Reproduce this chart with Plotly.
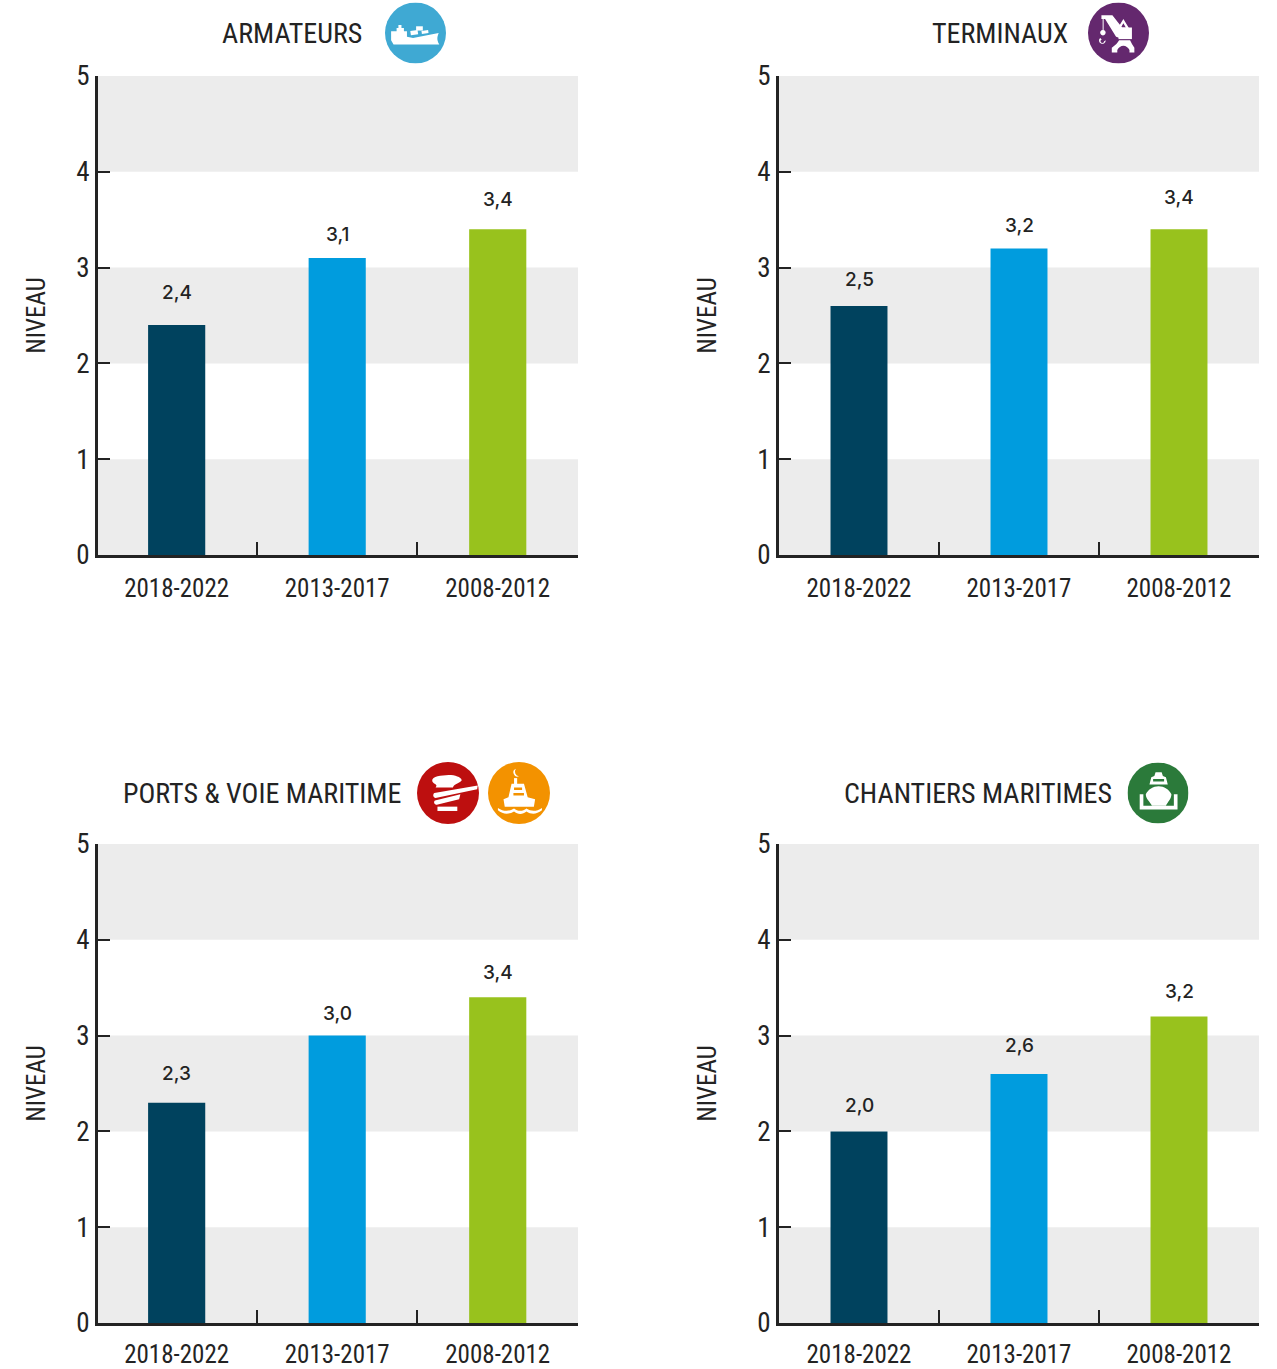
import base64
import plotly.graph_objects as go

W, H = 1277, 1369
periods = ["2018-2022", "2013-2017", "2008-2012"]
bar_colors = ["#00425e", "#009cde", "#98c21d"]
titles = ["ARMATEURS", "TERMINAUX", "PORTS & VOIE MARITIME", "CHANTIERS MARITIMES"]
armateurs = [2.4, 3.1, 3.4]
terminaux = [2.6, 3.2, 3.4]
ports = [2.3, 3.0, 3.4]
chantiers = [2.0, 2.6, 3.2]
armateurs_text = ["2,4", "3,1", "3,4"]
terminaux_text = ["2,5", "3,2", "3,4"]
ports_text = ["2,3", "3,0", "3,4"]
chantiers_text = ["2,0", "2,6", "3,2"]
armateurs_label_y = [2.74, 3.35, 3.71]
terminaux_label_y = [2.875, 3.44, 3.73]
ports_label_y = [2.60, 3.23, 3.66]
chantiers_label_y = [2.27, 2.90, 3.46]
y_ticks = [0, 1, 2, 3, 4, 5]
bands = [(0, 1), (2, 3), (4, 5)]

INK = "#232323"
NARROW = "Liberation Sans Narrow, Roboto Condensed, Liberation Sans, sans-serif"

# pixel frames: left, right, top, bottom, title x, title y, y-title standoff, x range start, x label standoff
frames = [
    (98, 578, 76, 555, 292, 33, 24, -0.49, 9),
    (779, 1259, 76, 555, 1000, 33, 34, -0.5, 9),
    (98, 578, 844, 1323, 262, 793, 24, -0.49, 7),
    (779, 1259, 844, 1323, 978, 793, 34, -0.5, 7),
]
series = [armateurs, terminaux, ports, chantiers]
texts = [armateurs_text, terminaux_text, ports_text, chantiers_text]
label_ys = [armateurs_label_y, terminaux_label_y, ports_label_y, chantiers_label_y]


def svg_icon(color, glyph):
    svg = (
        "<svg xmlns='http://www.w3.org/2000/svg' viewBox='0 0 100 100'>"
        f"<circle cx='50' cy='50' r='50' fill='{color}'/>"
        f"<g fill='#fff' stroke='none'>{glyph}</g></svg>"
    )
    return "data:image/svg+xml;base64," + base64.b64encode(svg.encode()).decode()


ship = (
    "<path d='M10 47 H19 V42 H22 V37 H27 V42 H31 V47 H36 V56 L46 58 L88 50 "
    "C86 56 84 60 89 69 L14 69 L10 62 Z'/>"
    "<rect x='42' y='46' width='12' height='7' transform='rotate(-8 48 50)'/>"
    "<rect x='51' y='39' width='11' height='7'/>"
    "<rect x='60' y='46' width='11' height='5' transform='rotate(-8 65 48)'/>"
)
crane = (
    "<path d='M22 21 H40 L58 44 L52 58 L46 56 L28 27 H22 Z'/>"
    "<path d='M58 27 L67 42 H49 Z M58 34 L54 41 H62 Z' fill-rule='evenodd'/>"
    "<rect x='50' y='41' width='22' height='19'/>"
    "<rect x='24' y='24' width='1.6' height='22'/>"
    "<path d='M24.5 45 a4.5 4.5 0 1 1 -0.1 0 Z M20 58 a5.5 5.5 0 1 0 9 4 l-2.5 1.5 a3 3 0 1 1 -4 -3 Z'/>"
    "<path d='M39 82 V74 C45 70 49 66 51 62 H69 C71 66 73 70 76 74 V82 H68 V78 C66 74 62 71 58 71 C54 71 50 74 48 78 V82 Z'/>"
)
bollard = (
    "<path d='M25 28 C28 22 45 21 55 21 C65 22 73 26 72 30 C70 34 60 35 58 41 L30 41 C36 35 22 36 25 28 Z'/>"
    "<path d='M28 50 L98 38 L97 44 L30 58 C26 58 25 52 28 50 Z'/>"
    "<path d='M29 62 L70 52 L68 60 L32 69 C28 69 26 64 29 62 Z'/>"
    "<rect x='33' y='72' width='32' height='7'/>"
)
buoy = (
    "<path d='M45 11 a6.5 6.5 0 1 0 5 12 a7.5 7.5 0 0 1 -5 -12 Z'/>"
    "<rect x='42' y='26' width='5' height='10'/>"
    "<path d='M38 35 H58 L64 57 L76 60 L74 72 H27 L25 60 L33 57 Z M42 41 V45 H55 V41 Z M41 50 V54 H58 V50 Z' fill-rule='evenodd'/>"
    "<path d='M16 74 C25 80 34 80 42 75 C48 80 56 80 62 75 C70 80 78 80 87 74 L87 78 C78 85 70 85 62 80 C56 85 48 85 42 80 C34 85 24 85 16 78 Z'/>"
)
dock = (
    "<path d='M46 16 H56 L58 22 L63 24 L66 36 H36 L39 24 L44 22 Z M42 27 V31 H60 V27 Z' fill-rule='evenodd'/>"
    "<path d='M30 52 C34 44 42 39 51 39 C60 39 68 44 72 52 C72 60 66 64 63 71 H40 C37 64 30 60 30 52 Z'/>"
    "<path d='M20 52 H26 V71 H76 V52 H82 V77 H20 Z'/>"
)
# icon: centre x, centre y, radius (pixels), image
icons = [
    (415.5, 33, 30.5, svg_icon("#3fa9d3", ship)),
    (1118.5, 33, 30.5, svg_icon("#64286e", crane)),
    (448, 793, 31, svg_icon("#bd0f0f", bollard)),
    (519, 793, 31, svg_icon("#f39200", buoy)),
    (1158, 793, 30.5, svg_icon("#2b7a3a", dock)),
]

fig = go.Figure()
shapes, annotations, images = [], [], []
layout = {}

for i, (l, r, t, b, tx, ty, standoff, x0, xstand) in enumerate(frames):
    n = "" if i == 0 else str(i + 1)
    fig.add_trace(go.Bar(
        x=periods, y=series[i], marker=dict(color=bar_colors, line=dict(width=0)),
        width=0.356, xaxis=f"x{n}", yaxis=f"y{n}", showlegend=False,
        hovertemplate="%{x}: %{y}<extra></extra>",
    ))
    layout[f"xaxis{n}"] = dict(
        domain=[l / W, r / W], anchor=f"y{n}", type="category",
        categoryorder="array", categoryarray=periods,
        range=[x0, 2.5], tickson="boundaries", ticks="inside", ticklen=13,
        tickwidth=2, tickcolor=INK, showline=True, linecolor=INK, linewidth=3,
        showgrid=False, zeroline=False, ticklabelstandoff=xstand, automargin=False,
        tickfont=dict(family=NARROW, size=25, color=INK),
    )
    layout[f"yaxis{n}"] = dict(
        domain=[1 - b / H, 1 - t / H], anchor=f"x{n}", range=[0, 5],
        tickmode="array", tickvals=y_ticks, ticktext=[str(v) for v in y_ticks],
        ticks="inside", ticklen=12, tickwidth=2, tickcolor=INK,
        showline=True, linecolor=INK, linewidth=3, showgrid=False, zeroline=False,
        ticklabelstandoff=0,
        tickfont=dict(family=NARROW, size=27, color=INK),
        title=dict(text="NIVEAU", standoff=standoff, font=dict(family=NARROW, size=25, color=INK)),
        automargin=False,
    )
    for lo, hi in bands:
        shapes.append(dict(
            type="rect", xref=f"x{n} domain", yref=f"y{n}", x0=0, x1=1, y0=lo, y1=hi,
            fillcolor="#ececec", line=dict(width=0), layer="below",
        ))
    for p, txt, ly in zip(periods, texts[i], label_ys[i]):
        annotations.append(dict(
            x=p, y=ly, xref=f"x{n}", yref=f"y{n}", text=txt, showarrow=False,
            font=dict(family="Inter", size=19, color=INK, weight=500),
        ))
    annotations.append(dict(
        x=tx / W, y=1 - ty / H, xref="paper", yref="paper", text=titles[i],
        showarrow=False, xanchor="center", yanchor="middle",
        font=dict(family=NARROW, size=28, color=INK),
    ))

for cx, cy, rad, src in icons:
    images.append(dict(
        source=src, xref="paper", yref="paper", x=(cx - rad) / W, y=1 - (cy - rad) / H,
        sizex=2 * rad / W, sizey=2 * rad / H, xanchor="left", yanchor="top",
        sizing="stretch", layer="above",
    ))

fig.update_layout(
    width=W, height=H, margin=dict(l=0, r=0, t=0, b=0, autoexpand=False), autosize=False,
    paper_bgcolor="#ffffff", plot_bgcolor="#ffffff",
    shapes=shapes, annotations=annotations, images=images, showlegend=False, **layout,
)
fig.write_html("out.html", config={"displayModeBar": False},
               post_script="document.body.style.margin='0';")
